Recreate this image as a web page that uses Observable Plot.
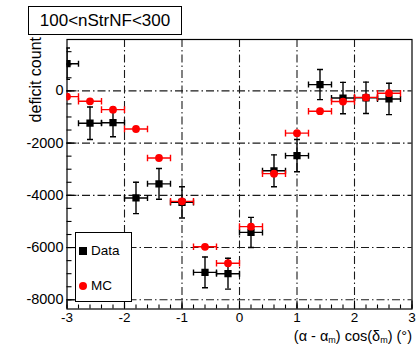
<!DOCTYPE html>
<html><head><meta charset="utf-8">
<script src="https://cdn.jsdelivr.net/npm/d3@7"></script>
<script src="https://cdn.jsdelivr.net/npm/@observablehq/plot@0.6"></script>
<style>
body{margin:0;background:#fff;}
#wrap{position:relative;width:417px;height:344px;font-family:"Liberation Sans",Arial,Helvetica,sans-serif;color:#000;}
#wrap svg{position:absolute;left:0;top:0;}
.title{position:absolute;left:28px;top:6px;width:152px;height:27px;border:1.5px solid #000;background:#fff;font-size:17px;line-height:27px;text-align:center;}
.legend{position:absolute;left:75px;top:232px;width:55px;height:68px;border:1.2px solid #000;background:#fff;font-size:13.5px;}
.legend .item{position:absolute;left:0;height:16px;line-height:16px;}
.legend .sq{position:absolute;left:3px;top:4px;width:8px;height:8px;background:#000;}
.legend .ci{position:absolute;left:3px;top:4px;width:8px;height:8px;border-radius:50%;background:#f00;}
.legend .lab{position:absolute;left:15px;top:0;white-space:nowrap;}
</style></head><body><div id="wrap"></div>
<script>
// ---- data ----
const binCenters = [-3.0, -2.6, -2.2, -1.8, -1.4, -1.0, -0.6, -0.2, 0.2, 0.6, 1.0, 1.4, 1.8, 2.2, 2.6];
const binHalfWidth = 0.2;
const dataCounts = [1040, -1240, -1220, -4100, -3560, -4270, -6950, -7000, -5420, -3060, -2480, 240, -275, -265, -310];
const dataErrors = [600, 620, 540, 600, 590, 600, 590, 590, 575, 610, 620, 575, 600, 600, 600];
const mcCounts = [-220, -400, -720, -1460, -2570, -4230, -5970, -6600, -5200, -3170, -1620, -780, -410, -250, -90];
const mcErrors = [80, 80, 80, 80, 80, 80, 80, 80, 80, 80, 80, 80, 80, 80, 80];
const xMajorTicks = [-3, -2, -1, 0, 1, 2, 3];
const xMinorTicks = d3.range(-30, 31, 2).map(v => v / 10);
const yMajorTicks = [0, -2000, -4000, -6000, -8000];
const yMinorTicks = d3.range(-8000, 1501, 500);
const xGridLines = [-2, -1, 0, 1, 2];
const yGridLines = [0, -2000, -4000, -6000, -8000];
const seriesNames = ["Data", "MC"];
const titleText = "100<nStrNF<300";
const yLabel = "deficit count";

const rows = binCenters.map((x, i) => ({
  x, lo: x - binHalfWidth, hi: x + binHalfWidth,
  d: dataCounts[i], de: dataErrors[i], m: mcCounts[i], me: mcErrors[i]
}));

const capH = {draw(ctx, size) { const r = Math.sqrt(size / Math.PI); ctx.moveTo(-r, 0); ctx.lineTo(r, 0); }};
const capV = {draw(ctx, size) { const r = Math.sqrt(size / Math.PI); ctx.moveTo(0, -r); ctx.lineTo(0, r); }};

const gridStyle = {stroke: "#1a1a1a", strokeOpacity: 1, strokeWidth: 1.1, strokeDasharray: "8,3,1.5,3"};
const blank = () => "";

const chart = Plot.plot({
  width: 417, height: 344,
  marginLeft: 66.5, marginRight: 5.5, marginTop: 39, marginBottom: 35.5,
  style: {fontFamily: '"Liberation Sans", Arial, Helvetica, sans-serif', fontSize: "14px", background: "transparent", color: "#000"},
  x: {domain: [-3, 3], label: null},
  y: {domain: [-8352, 1966], label: null},
  marks: [
    Plot.gridX(xGridLines, gridStyle),
    Plot.gridY(yGridLines, gridStyle),
    Plot.axisX({ticks: xMajorTicks, tickSize: 0, tickPadding: 3.5, tickFormat: d => String(d), label: null, fontSize: 13.5}),
    Plot.axisX({ticks: xMinorTicks, tickSize: -4, tickFormat: blank, label: null, strokeWidth: 1.1}),
    Plot.axisX({ticks: xMajorTicks, tickSize: -8, tickFormat: blank, label: null, strokeWidth: 1.1}),
    Plot.axisY({ticks: yMajorTicks, tickSize: 0, tickPadding: 3.5, tickFormat: d => String(d), label: null, fontSize: 14.5}),
    Plot.axisY({ticks: yMinorTicks, tickSize: -5, tickFormat: blank, label: null, strokeWidth: 1.1}),
    Plot.axisY({ticks: yMajorTicks, tickSize: -10, tickFormat: blank, label: null, strokeWidth: 1.1}),
    Plot.frame({stroke: "#000", strokeWidth: 1.2}),
    // Data (black squares)
    Plot.ruleX(rows, {x: "x", y1: d => d.d - d.de, y2: d => d.d + d.de, stroke: "#000", strokeWidth: 1.4, clip: true}),
    Plot.ruleY(rows, {y: "d", x1: "lo", x2: "hi", stroke: "#000", strokeWidth: 1.4, clip: true}),
    Plot.dot(rows, {x: "x", y: d => d.d - d.de, symbol: capH, r: 3, stroke: "#000", strokeWidth: 1.4, clip: true}),
    Plot.dot(rows, {x: "x", y: d => d.d + d.de, symbol: capH, r: 3, stroke: "#000", strokeWidth: 1.4, clip: true}),
    Plot.dot(rows, {x: "lo", y: "d", symbol: capV, r: 3, stroke: "#000", strokeWidth: 1.4, clip: true}),
    Plot.dot(rows, {x: "hi", y: "d", symbol: capV, r: 3, stroke: "#000", strokeWidth: 1.4, clip: true}),
    Plot.dot(rows, {x: "x", y: "d", symbol: "square", r: 4.1, fill: "#000", stroke: null, clip: true}),
    // MC (red circles)
    Plot.ruleX(rows, {x: "x", y1: d => d.m - d.me, y2: d => d.m + d.me, stroke: "#f00", strokeWidth: 1.4, clip: true}),
    Plot.ruleY(rows, {y: "m", x1: "lo", x2: "hi", stroke: "#f00", strokeWidth: 1.4, clip: true}),
    Plot.dot(rows, {x: "lo", y: "m", symbol: capV, r: 3.3, stroke: "#f00", strokeWidth: 1.4, clip: true}),
    Plot.dot(rows, {x: "hi", y: "m", symbol: capV, r: 3.3, stroke: "#f00", strokeWidth: 1.4, clip: true}),
    Plot.dot(rows, {x: "x", y: "m", symbol: "circle", r: 3.9, fill: "#f00", stroke: null, clip: true})
  ]
});

const wrap = document.getElementById("wrap");
wrap.appendChild(chart);

const svg = d3.select(chart);
// y axis title (rotated, aligned to the top end of the axis)
svg.append("text")
  .attr("transform", "translate(41,37) rotate(-90)")
  .attr("text-anchor", "end")
  .attr("font-size", 16)
  .attr("fill", "#000")
  .text(yLabel);
// x axis title with subscripts
const xt = svg.append("text")
  .attr("x", 412).attr("y", 341)
  .attr("text-anchor", "end")
  .attr("font-size", 14.5)
  .attr("fill", "#000");
xt.append("tspan").text("(α - α");
xt.append("tspan").attr("dy", 2).attr("font-size", 9).text("m");
xt.append("tspan").attr("dy", -2).text(") cos(δ");
xt.append("tspan").attr("dy", 2).attr("font-size", 9).text("m");
xt.append("tspan").attr("dy", -2).text(") (°)");

// title box
const t = document.createElement("div");
t.className = "title";
t.textContent = titleText;
wrap.appendChild(t);

// legend
const lg = document.createElement("div");
lg.className = "legend";
lg.innerHTML =
  `<div class="item" style="top:10px"><span class="sq"></span><span class="lab">${seriesNames[0]}</span></div>` +
  `<div class="item" style="top:45px"><span class="ci"></span><span class="lab">${seriesNames[1]}</span></div>`;
wrap.appendChild(lg);
</script>
</body></html>
